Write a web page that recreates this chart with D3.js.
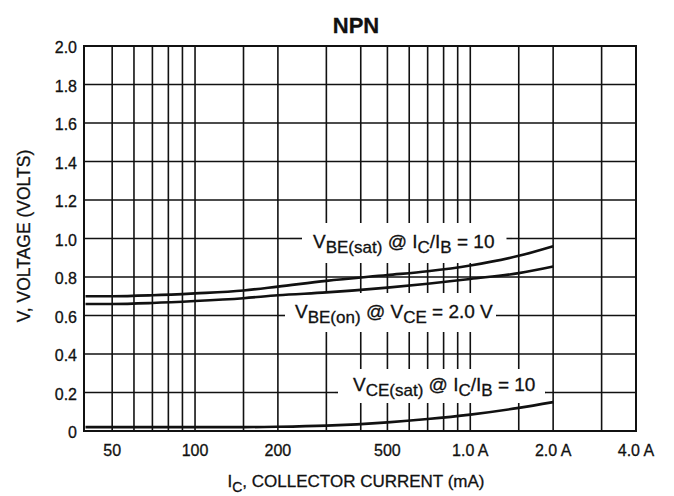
<!DOCTYPE html>
<html>
<head>
<meta charset="utf-8">
<script src="https://cdn.jsdelivr.net/npm/d3@7"></script>
<style>
  body { margin: 0; background: #fff; }
  svg text { font-family: "Liberation Sans", Arial, Helvetica, sans-serif; fill: #111; stroke: #111; stroke-width: 0.3; }
</style>
</head>
<body>
<div id="chart"></div>
<script>
// data
var currents = [40, 50, 70, 100, 150, 200, 300, 500, 700, 1000, 1500, 2000];   // mA
var vbeSat = [0.70, 0.70, 0.705, 0.715, 0.73, 0.75, 0.78, 0.81, 0.83, 0.86, 0.91, 0.96];
var vbeOn  = [0.66, 0.66, 0.665, 0.675, 0.69, 0.705, 0.72, 0.745, 0.765, 0.79, 0.82, 0.855];
var vceSat = [0.02, 0.02, 0.02, 0.02, 0.02, 0.022, 0.028, 0.045, 0.062, 0.085, 0.12, 0.15];

var xTickVals = [50, 100, 200, 500, 1000, 2000, 4000];
var xTickLabels = ["50", "100", "200", "500", "1.0 A", "2.0 A", "4.0 A"];
var xGridVals = [50, 60, 70, 80, 90, 100, 150, 200, 300, 400, 500, 600, 700, 800, 900, 1000, 1500, 2000, 3000];
var yTickVals = [0, 0.2, 0.4, 0.6, 0.8, 1.0, 1.2, 1.4, 1.6, 1.8, 2.0];
var yTickLabels = ["0", "0.2", "0.4", "0.6", "0.8", "1.0", "1.2", "1.4", "1.6", "1.8", "2.0"];

var width = 674, height = 496;
var plotL = 84, plotR = 636, plotT = 46, plotB = 431;

var svg = d3.select('#chart').append('svg')
  .attr('width', width)
  .attr('height', height);

var x = d3.scaleLog().domain([39.5, 4000]).range([plotL, plotR]);
var y = d3.scaleLinear().domain([0, 2]).range([plotB, plotT]);

// grid
var grid = svg.append('g').attr('stroke', '#111').attr('stroke-width', 1.6);
grid.selectAll('.vgrid').data(xGridVals).enter().append('line')
  .attr('class', 'vgrid')
  .attr('x1', function(d) { return x(d); })
  .attr('x2', function(d) { return x(d); })
  .attr('y1', plotT).attr('y2', plotB);
grid.selectAll('.hgrid').data(yTickVals).enter().append('line')
  .attr('class', 'hgrid')
  .attr('x1', plotL).attr('x2', plotR)
  .attr('y1', function(d) { return y(d); })
  .attr('y2', function(d) { return y(d); });

// curve labels sit in white boxes that hide the vertical grid
var labels = [
  { parts: [["V"], ["BE(sat)", 1], [" @ I"], ["C", 1], ["/I"], ["B", 1], [" = 10"]],
    level: 1.0, tx: 313, ty: 248, box: [290, 223, 512, 263], gl: 11, gr: 12 },
  { parts: [["V"], ["BE(on)", 1], [" @ V"], ["CE", 1], [" = 2.0 V"]],
    level: 0.6, tx: 295, ty: 318, box: [280, 293, 496, 332], gl: 10, gr: 3 },
  { parts: [["V"], ["CE(sat)", 1], [" @ I"], ["C", 1], ["/I"], ["B", 1], [" = 10"]],
    level: 0.2, tx: 353, ty: 391, box: [335, 369, 545, 403], gl: 15, gr: 10 }
];

var boxLayer = svg.append('g');
var curveLayer = svg.append('g');
var textLayer = svg.append('g');

labels.forEach(function(l) {
  boxLayer.append('rect')
    .attr('x', l.box[0]).attr('y', l.box[1])
    .attr('width', l.box[2] - l.box[0]).attr('height', l.box[3] - l.box[1])
    .attr('fill', '#fff');

  var t = textLayer.append('text')
    .attr('x', l.tx).attr('y', l.ty)
    .attr('font-size', 19);
  var shifted = false;
  l.parts.forEach(function(p) {
    var ts = t.append('tspan').text(p[0]);
    if (p[1] && !shifted) { ts.attr('dy', 5).attr('font-size', 17); shifted = true; }
    else if (p[1]) { ts.attr('font-size', 17); }
    else if (shifted) { ts.attr('dy', -5); shifted = false; }
  });
  var bb = t.node().getBBox();
  // leader line segments inside the box
  boxLayer.append('line')
    .attr('x1', l.box[0]).attr('x2', bb.x - l.gl)
    .attr('y1', y(l.level)).attr('y2', y(l.level))
    .attr('stroke', '#111').attr('stroke-width', 1.6);
  boxLayer.append('line')
    .attr('x1', bb.x + bb.width + l.gr).attr('x2', l.box[2])
    .attr('y1', y(l.level)).attr('y2', y(l.level))
    .attr('stroke', '#111').attr('stroke-width', 1.6);
});

// border
svg.append('rect')
  .attr('x', plotL).attr('y', plotT)
  .attr('width', plotR - plotL).attr('height', plotB - plotT)
  .attr('fill', 'none').attr('stroke', '#111').attr('stroke-width', 2);

// curves
var line = d3.line()
  .x(function(d) { return x(d[0]); })
  .y(function(d) { return y(d[1]); })
  .curve(d3.curveMonotoneX);

[vbeSat, vbeOn, vceSat].forEach(function(s) {
  curveLayer.append('path')
    .datum(currents.map(function(c, i) { return [c, s[i]]; }))
    .attr('d', line)
    .attr('fill', 'none')
    .attr('stroke', '#111')
    .attr('stroke-width', 2.6);
});

// axis labels
svg.selectAll('.xlab').data(xTickVals).enter().append('text')
  .attr('class', 'xlab')
  .attr('x', function(d) { return x(d); })
  .attr('y', 456)
  .attr('text-anchor', 'middle')
  .attr('font-size', 16)
  .text(function(d, i) { return xTickLabels[i]; });

svg.selectAll('.ylab').data(yTickVals).enter().append('text')
  .attr('class', 'ylab')
  .attr('x', 77)
  .attr('y', function(d) { return y(d); })
  .attr('dy', '0.45em')
  .attr('text-anchor', 'end')
  .attr('font-size', 16)
  .text(function(d, i) { return yTickLabels[i]; });

svg.append('text')
  .attr('x', 356).attr('y', 33)
  .attr('text-anchor', 'middle')
  .attr('font-size', 22)
  .attr('font-weight', 'bold')
  .text('NPN');

var xt = svg.append('text')
  .attr('x', 356).attr('y', 487)
  .attr('text-anchor', 'middle')
  .attr('font-size', 17);
xt.append('tspan').text('I');
xt.append('tspan').attr('dy', 5).attr('font-size', 14).text('C');
xt.append('tspan').attr('dy', -5).text(', COLLECTOR CURRENT (mA)');

svg.append('text')
  .attr('transform', 'translate(30,236) rotate(-90)')
  .attr('text-anchor', 'middle')
  .attr('font-size', 17.5)
  .text('V, VOLTAGE (VOLTS)');
</script>
</body>
</html>
